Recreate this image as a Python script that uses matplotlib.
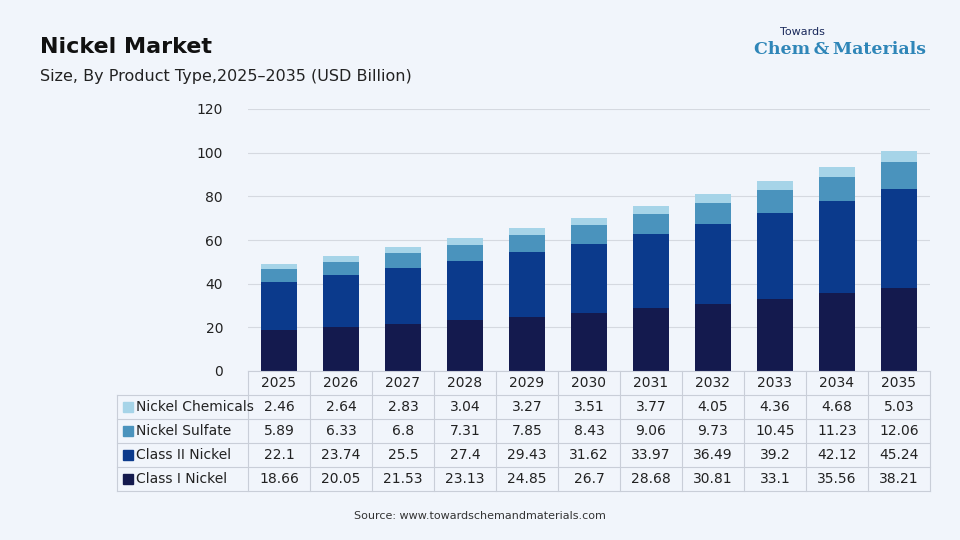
import matplotlib.pyplot as plt
import numpy as np

years = ["2025", "2026", "2027", "2028", "2029", "2030", "2031", "2032", "2033", "2034", "2035"]
class1 = [18.66, 20.05, 21.53, 23.13, 24.85, 26.7, 28.68, 30.81, 33.1, 35.56, 38.21]
class2 = [22.1, 23.74, 25.5, 27.4, 29.43, 31.62, 33.97, 36.49, 39.2, 42.12, 45.24]
sulfate = [5.89, 6.33, 6.8, 7.31, 7.85, 8.43, 9.06, 9.73, 10.45, 11.23, 12.06]
chemicals = [2.46, 2.64, 2.83, 3.04, 3.27, 3.51, 3.77, 4.05, 4.36, 4.68, 5.03]

series = [("Class I Nickel", class1, "#141a4e"),
          ("Class II Nickel", class2, "#0b3a8c"),
          ("Nickel Sulfate", sulfate, "#4a93bd"),
          ("Nickel Chemicals", chemicals, "#a6d4e8")]

fig = plt.figure(figsize=(9.6, 5.4), dpi=100, facecolor="#f1f5fb")
W, H = 960, 540
ax = fig.add_axes([248 / W, 1 - 371 / H, 682 / W, 262 / H])
ax.set_facecolor("#f1f5fb")
x = np.arange(len(years))
bottom = np.zeros(len(years))
for name, vals, col in series:
    ax.bar(x, vals, 0.58, bottom=bottom, color=col, zorder=3)
    bottom += np.array(vals)
ax.set_xlim(-0.5, len(years) - 0.5)
ax.set_ylim(0, 120)
ax.set_yticks(range(0, 121, 20))
ax.grid(axis="y", color="#d5d9e0", lw=0.8, zorder=0)
ax.set_xticks([])
for s in ax.spines.values():
    s.set_visible(False)
ax.tick_params(axis="y", length=0, labelsize=10, colors="#222222", pad=18)

# data table drawn below the plot
lc = "#c9ced8"
left, colx0, colw = 117, 248, 682 / len(years)
top, hdr, rowh = 371, 24, 24
def fx(px): return px / W
def fy(py): return 1 - py / H
rows = series[::-1]
bottom_px = top + hdr + rowh * len(rows)
for i in range(len(years) + 1):
    xx = colx0 + i * colw
    fig.add_artist(plt.Line2D([fx(xx)] * 2, [fy(top), fy(bottom_px)], color=lc, lw=0.8))
fig.add_artist(plt.Line2D([fx(left)] * 2, [fy(top + hdr), fy(bottom_px)], color=lc, lw=0.8))
fig.add_artist(plt.Line2D([fx(colx0), fx(colx0 + 682)], [fy(top)] * 2, color=lc, lw=0.8))
for r in range(len(rows) + 1):
    yy = top + hdr + r * rowh
    fig.add_artist(plt.Line2D([fx(left), fx(colx0 + 682)], [fy(yy)] * 2, color=lc, lw=0.8))
for i, yr in enumerate(years):
    fig.text(fx(colx0 + (i + 0.5) * colw), fy(top + hdr / 2), yr, ha="center", va="center", fontsize=10, color="#222222")
for r, (name, vals, col) in enumerate(rows):
    cy = fy(top + hdr + (r + 0.5) * rowh)
    fig.patches.append(plt.Rectangle((fx(123), cy - 5 / H), 10 / W, 10 / H, color=col, transform=fig.transFigure, figure=fig))
    fig.text(fx(136), cy, name, ha="left", va="center", fontsize=10, color="#222222")
    for i, v in enumerate(vals):
        fig.text(fx(colx0 + (i + 0.5) * colw), cy, f"{v:g}", ha="center", va="center", fontsize=10, color="#222222")

fig.text(fx(40), fy(47), "Nickel Market", fontsize=16, fontweight="bold", color="#111111", va="center")
fig.text(fx(40), fy(76), "Size, By Product Type,2025\u20132035 (USD Billion)", fontsize=11.5, color="#222222", va="center")
fig.text(fx(480), fy(516), "Source: www.towardschemandmaterials.com", fontsize=8, color="#333333", ha="center", va="center")
fig.text(fx(780), fy(32), "Towards", fontsize=8, color="#1b2a5c", va="center")
fig.text(fx(926), fy(50), "Chem\u2009&\u2009Materials", fontsize=12.5, color="#2f86b8", ha="right", va="center",
         fontfamily="DejaVu Serif", fontweight="bold")

fig.savefig("out.png", dpi=100, facecolor=fig.get_facecolor())
